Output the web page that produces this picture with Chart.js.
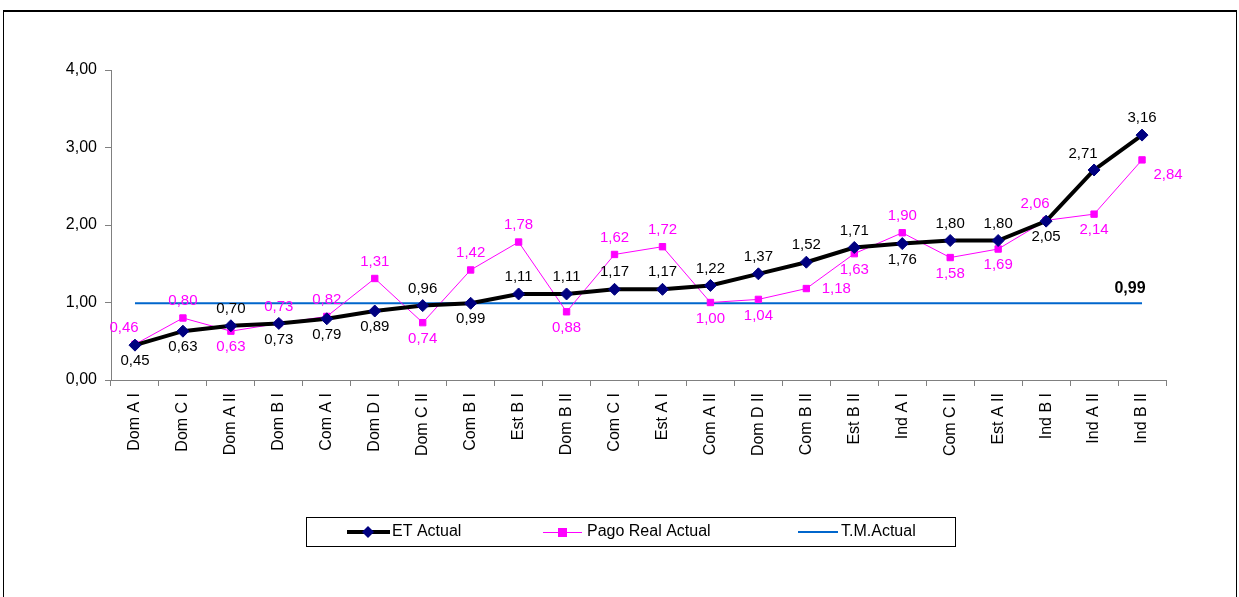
<!DOCTYPE html>
<html>
<head>
<meta charset="utf-8">
<script src="https://cdn.jsdelivr.net/npm/chart.js@4.4.1/dist/chart.umd.min.js"></script>
<style>
  html, body { margin: 0; padding: 0; background: #fff; }
  #wrap { position: relative; width: 1239px; height: 597px; overflow: hidden; }
  #frame { position: absolute; left: 3px; top: 10px; width: 1232px; height: 620px; border: 1px solid #000; border-top: 2px solid #000; }
  canvas { position: absolute; left: 0; top: 0; }
</style>
</head>
<body>
<div id="wrap">
  <div id="frame"></div>
  <canvas id="chart" width="1239" height="597"></canvas>
</div>
<script>
// Data
const categories = ["Dom A I", "Dom C I", "Dom A II", "Dom B I", "Com A I", "Dom D I", "Dom C II",
  "Com B I", "Est B I", "Dom B II", "Com C I", "Est A I", "Com A II", "Dom D II", "Com B II",
  "Est B II", "Ind A I", "Com C II", "Est A II", "Ind B I", "Ind A II", "Ind B II"];
const etActual = [0.45, 0.63, 0.70, 0.73, 0.79, 0.89, 0.96, 0.99, 1.11, 1.11, 1.17, 1.17,
  1.22, 1.37, 1.52, 1.71, 1.76, 1.80, 1.80, 2.05, 2.71, 3.16];
const pagoReal = [0.46, 0.80, 0.63, 0.73, 0.82, 1.31, 0.74, 1.42, 1.78, 0.88, 1.62, 1.72,
  1.00, 1.04, 1.18, 1.63, 1.90, 1.58, 1.69, 2.06, 2.14, 2.84];
const tmActual = categories.map(() => 0.99);
const yTicks = [0, 1, 2, 3, 4];

// label placement (a = above, b = below, r = right, al = above-left, br = below-right)
const etLabelPos = ["b","b","a","b","b","b","a","b","a","a","a","a","a","a","a","a","b","a","a","b","al","a"];
const pagoLabelPos = ["al","a","b","a","a","a","b","a","a","b","a","a","b","b","r","b","a","b","b","al","b","br"];
const offsets = {
  a: [0, -17], b: [0, 16], r: [30, 0], al: [-11, -16], br: [26, 15]
};

const fmt = v => v.toFixed(2).replace(".", ",");
const FONT = "'Liberation Sans', Arial, sans-serif";

const labelPlugin = {
  id: "labels",
  afterDatasetsDraw(chart) {
    const ctx = chart.ctx;
    ctx.save();
    ctx.font = "15px " + FONT;
    ctx.textAlign = "center";
    ctx.textBaseline = "middle";
    [[0, etLabelPos, "#000000"], [1, pagoLabelPos, "#ff00ff"]].forEach(([idx, pos, color]) => {
      const meta = chart.getDatasetMeta(idx);
      const data = chart.data.datasets[idx].data;
      ctx.fillStyle = color;
      meta.data.forEach((pt, i) => {
        const o = offsets[pos[i]];
        ctx.fillText(fmt(data[i]), pt.x + o[0], pt.y + o[1]);
      });
    });
    // T.M. value at the right end
    const tm = chart.getDatasetMeta(2).data;
    const last = tm[tm.length - 1];
    ctx.fillStyle = "#000";
    ctx.font = "bold 16px " + FONT;
    ctx.fillText(fmt(tmActual[tmActual.length - 1]), last.x - 12, last.y - 15);

    // Legend
    const lx = 306, ly = 517, lw = 649, lh = 29, cy = ly + lh / 2 + 0.5;
    ctx.strokeStyle = "#000";
    ctx.lineWidth = 1;
    ctx.strokeRect(lx + 0.5, ly + 0.5, lw, lh);
    ctx.font = "16px " + FONT;
    ctx.textAlign = "left";
    // ET Actual
    ctx.strokeStyle = "#000"; ctx.lineWidth = 4;
    ctx.beginPath(); ctx.moveTo(347, cy); ctx.lineTo(390, cy); ctx.stroke();
    ctx.fillStyle = "#000080";
    ctx.beginPath(); ctx.moveTo(368, cy - 6); ctx.lineTo(374, cy); ctx.lineTo(368, cy + 6); ctx.lineTo(362, cy); ctx.closePath(); ctx.fill();
    ctx.fillStyle = "#000";
    ctx.fillText(chart.data.datasets[0].label, 392, cy);
    // Pago Real Actual
    ctx.strokeStyle = "#ff00ff"; ctx.lineWidth = 1;
    ctx.beginPath(); ctx.moveTo(543, cy + 0.5); ctx.lineTo(582, cy + 0.5); ctx.stroke();
    ctx.fillStyle = "#ff00ff";
    ctx.fillRect(558, cy - 4, 9, 9);
    ctx.fillStyle = "#000";
    ctx.fillText(chart.data.datasets[1].label, 587, cy);
    // T.M.Actual
    ctx.strokeStyle = "#0066cc"; ctx.lineWidth = 2;
    ctx.beginPath(); ctx.moveTo(798, cy); ctx.lineTo(838, cy); ctx.stroke();
    ctx.fillText(chart.data.datasets[2].label, 841, cy);
    ctx.restore();
  }
};

new Chart(document.getElementById("chart"), {
  type: "line",
  data: {
    labels: categories,
    datasets: [
      {
        label: "ET Actual",
        data: etActual,
        borderColor: "#000000",
        borderWidth: 4,
        pointStyle: "rectRot",
        pointRadius: 6,
        pointBackgroundColor: "#000080",
        pointBorderColor: "#000080",
        pointBorderWidth: 1,
        tension: 0,
        order: 1
      },
      {
        label: "Pago Real Actual",
        data: pagoReal,
        borderColor: "#ff00ff",
        borderWidth: 1,
        pointStyle: "rect",
        pointRadius: 4.5,
        pointBackgroundColor: "#ff00ff",
        pointBorderColor: "#ff00ff",
        tension: 0,
        order: 2
      },
      {
        label: "T.M.Actual",
        data: tmActual,
        borderColor: "#0066cc",
        borderWidth: 2,
        pointRadius: 0,
        tension: 0,
        order: 3
      }
    ]
  },
  options: {
    responsive: false,
    animation: false,
    events: [],
    layout: { padding: { left: 0, top: 70, right: 73, bottom: 0 } },
    plugins: {
      legend: { display: false },
      title: { display: false },
      tooltip: { enabled: false }
    },
    scales: {
      x: {
        offset: true,
        grid: { offset: true, drawOnChartArea: false, color: "#808080", tickLength: 6 },
        border: { color: "#808080", width: 1 },
        ticks: {
          autoSkip: false, minRotation: 90, maxRotation: 90, padding: 7,
          color: "#000", font: { family: FONT, size: 16 }
        },
        afterFit(scale) { scale.height = 217; }
      },
      y: {
        min: 0, max: 4,
        afterBuildTicks(scale) { scale.ticks = yTicks.map(v => ({ value: v })); },
        grid: { drawOnChartArea: false, color: "#808080", tickLength: 6 },
        border: { color: "#808080", width: 1 },
        ticks: {
          padding: 8, color: "#000", font: { family: FONT, size: 16 },
          callback: v => fmt(v)
        },
        afterFit(scale) { scale.width = 111; }
      }
    }
  },
  plugins: [labelPlugin]
});
</script>
</body>
</html>
